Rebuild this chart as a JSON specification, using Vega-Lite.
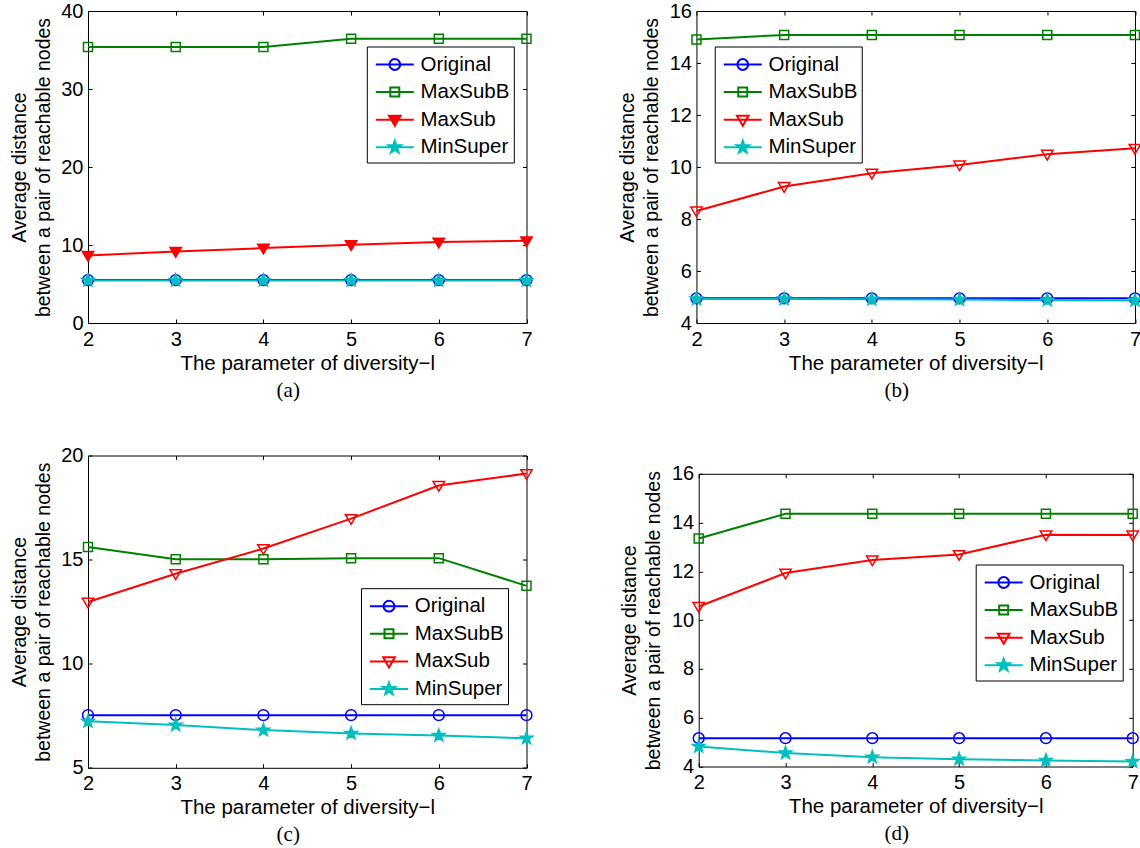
{
  "$schema": "https://vega.github.io/schema/vega-lite/v6.json",
  "background": "white",
  "padding": {"left": 8, "top": 0, "right": 0, "bottom": 5},
  "data": {"values": [
    {"panel": "a", "l": 2, "series": "Original", "value": 5.5},
    {"panel": "a", "l": 3, "series": "Original", "value": 5.5},
    {"panel": "a", "l": 4, "series": "Original", "value": 5.5},
    {"panel": "a", "l": 5, "series": "Original", "value": 5.5},
    {"panel": "a", "l": 6, "series": "Original", "value": 5.5},
    {"panel": "a", "l": 7, "series": "Original", "value": 5.5},
    {"panel": "a", "l": 2, "series": "MaxSubB", "value": 35.4},
    {"panel": "a", "l": 3, "series": "MaxSubB", "value": 35.4},
    {"panel": "a", "l": 4, "series": "MaxSubB", "value": 35.4},
    {"panel": "a", "l": 5, "series": "MaxSubB", "value": 36.45},
    {"panel": "a", "l": 6, "series": "MaxSubB", "value": 36.45},
    {"panel": "a", "l": 7, "series": "MaxSubB", "value": 36.45},
    {"panel": "a", "l": 2, "series": "MaxSub", "value": 8.66},
    {"panel": "a", "l": 3, "series": "MaxSub", "value": 9.17},
    {"panel": "a", "l": 4, "series": "MaxSub", "value": 9.6},
    {"panel": "a", "l": 5, "series": "MaxSub", "value": 10.03},
    {"panel": "a", "l": 6, "series": "MaxSub", "value": 10.37},
    {"panel": "a", "l": 7, "series": "MaxSub", "value": 10.54},
    {"panel": "a", "l": 2, "series": "MinSuper", "value": 5.45},
    {"panel": "a", "l": 3, "series": "MinSuper", "value": 5.45},
    {"panel": "a", "l": 4, "series": "MinSuper", "value": 5.45},
    {"panel": "a", "l": 5, "series": "MinSuper", "value": 5.45},
    {"panel": "a", "l": 6, "series": "MinSuper", "value": 5.45},
    {"panel": "a", "l": 7, "series": "MinSuper", "value": 5.45},
    {"panel": "b", "l": 2, "series": "Original", "value": 4.95},
    {"panel": "b", "l": 3, "series": "Original", "value": 4.95},
    {"panel": "b", "l": 4, "series": "Original", "value": 4.95},
    {"panel": "b", "l": 5, "series": "Original", "value": 4.95},
    {"panel": "b", "l": 6, "series": "Original", "value": 4.95},
    {"panel": "b", "l": 7, "series": "Original", "value": 4.95},
    {"panel": "b", "l": 2, "series": "MaxSubB", "value": 14.9},
    {"panel": "b", "l": 3, "series": "MaxSubB", "value": 15.08},
    {"panel": "b", "l": 4, "series": "MaxSubB", "value": 15.08},
    {"panel": "b", "l": 5, "series": "MaxSubB", "value": 15.08},
    {"panel": "b", "l": 6, "series": "MaxSubB", "value": 15.08},
    {"panel": "b", "l": 7, "series": "MaxSubB", "value": 15.08},
    {"panel": "b", "l": 2, "series": "MaxSub", "value": 8.31},
    {"panel": "b", "l": 3, "series": "MaxSub", "value": 9.25},
    {"panel": "b", "l": 4, "series": "MaxSub", "value": 9.76},
    {"panel": "b", "l": 5, "series": "MaxSub", "value": 10.08},
    {"panel": "b", "l": 6, "series": "MaxSub", "value": 10.49},
    {"panel": "b", "l": 7, "series": "MaxSub", "value": 10.72},
    {"panel": "b", "l": 2, "series": "MinSuper", "value": 4.92},
    {"panel": "b", "l": 3, "series": "MinSuper", "value": 4.92},
    {"panel": "b", "l": 4, "series": "MinSuper", "value": 4.91},
    {"panel": "b", "l": 5, "series": "MinSuper", "value": 4.9},
    {"panel": "b", "l": 6, "series": "MinSuper", "value": 4.88},
    {"panel": "b", "l": 7, "series": "MinSuper", "value": 4.87},
    {"panel": "c", "l": 2, "series": "Original", "value": 7.53},
    {"panel": "c", "l": 3, "series": "Original", "value": 7.53},
    {"panel": "c", "l": 4, "series": "Original", "value": 7.53},
    {"panel": "c", "l": 5, "series": "Original", "value": 7.53},
    {"panel": "c", "l": 6, "series": "Original", "value": 7.53},
    {"panel": "c", "l": 7, "series": "Original", "value": 7.53},
    {"panel": "c", "l": 2, "series": "MaxSubB", "value": 15.6},
    {"panel": "c", "l": 3, "series": "MaxSubB", "value": 15.02},
    {"panel": "c", "l": 4, "series": "MaxSubB", "value": 15.02},
    {"panel": "c", "l": 5, "series": "MaxSubB", "value": 15.07},
    {"panel": "c", "l": 6, "series": "MaxSubB", "value": 15.07},
    {"panel": "c", "l": 7, "series": "MaxSubB", "value": 13.74},
    {"panel": "c", "l": 2, "series": "MaxSub", "value": 12.96},
    {"panel": "c", "l": 3, "series": "MaxSub", "value": 14.32},
    {"panel": "c", "l": 4, "series": "MaxSub", "value": 15.53},
    {"panel": "c", "l": 5, "series": "MaxSub", "value": 16.97},
    {"panel": "c", "l": 6, "series": "MaxSub", "value": 18.56},
    {"panel": "c", "l": 7, "series": "MaxSub", "value": 19.13},
    {"panel": "c", "l": 2, "series": "MinSuper", "value": 7.23},
    {"panel": "c", "l": 3, "series": "MinSuper", "value": 7.05},
    {"panel": "c", "l": 4, "series": "MinSuper", "value": 6.81},
    {"panel": "c", "l": 5, "series": "MinSuper", "value": 6.65},
    {"panel": "c", "l": 6, "series": "MinSuper", "value": 6.55},
    {"panel": "c", "l": 7, "series": "MinSuper", "value": 6.42},
    {"panel": "d", "l": 2, "series": "Original", "value": 5.16},
    {"panel": "d", "l": 3, "series": "Original", "value": 5.16},
    {"panel": "d", "l": 4, "series": "Original", "value": 5.16},
    {"panel": "d", "l": 5, "series": "Original", "value": 5.16},
    {"panel": "d", "l": 6, "series": "Original", "value": 5.16},
    {"panel": "d", "l": 7, "series": "Original", "value": 5.16},
    {"panel": "d", "l": 2, "series": "MaxSubB", "value": 13.35},
    {"panel": "d", "l": 3, "series": "MaxSubB", "value": 14.36},
    {"panel": "d", "l": 4, "series": "MaxSubB", "value": 14.36},
    {"panel": "d", "l": 5, "series": "MaxSubB", "value": 14.36},
    {"panel": "d", "l": 6, "series": "MaxSubB", "value": 14.36},
    {"panel": "d", "l": 7, "series": "MaxSubB", "value": 14.36},
    {"panel": "d", "l": 2, "series": "MaxSub", "value": 10.56},
    {"panel": "d", "l": 3, "series": "MaxSub", "value": 11.93},
    {"panel": "d", "l": 4, "series": "MaxSub", "value": 12.47},
    {"panel": "d", "l": 5, "series": "MaxSub", "value": 12.69},
    {"panel": "d", "l": 6, "series": "MaxSub", "value": 13.5},
    {"panel": "d", "l": 7, "series": "MaxSub", "value": 13.49},
    {"panel": "d", "l": 2, "series": "MinSuper", "value": 4.82},
    {"panel": "d", "l": 3, "series": "MinSuper", "value": 4.55},
    {"panel": "d", "l": 4, "series": "MinSuper", "value": 4.38},
    {"panel": "d", "l": 5, "series": "MinSuper", "value": 4.3},
    {"panel": "d", "l": 6, "series": "MinSuper", "value": 4.25},
    {"panel": "d", "l": 7, "series": "MinSuper", "value": 4.2}
  ]},
  "bounds": "flush",
  "spacing": 608.2,
  "resolve": {"scale": {"color": "independent", "fill": "independent", "shape": "independent"}, "legend": {"color": "independent", "fill": "independent", "shape": "independent"}},
  "hconcat": [
    {
      "bounds": "flush",
      "spacing": 132.5,
      "resolve": {"scale": {"color": "independent", "fill": "independent", "shape": "independent"}, "legend": {"color": "independent", "fill": "independent", "shape": "independent"}},
      "vconcat": [
        {
          "width": 438.5, "height": 312,
          "title": {"text": "(a)", "orient": "bottom", "dx": -19},
          "transform": [{"filter": "datum.panel === 'a'"}],
          "resolve": {"axis": {"x": "independent", "y": "independent"}},
          "layer": [
            {
              "mark": {"type": "line", "strokeWidth": 2},
              "encoding": {
                "x": {"field": "l", "type": "quantitative", "scale": {"domain": [2, 7], "nice": false, "zero": false}, "axis": {"orient": "bottom", "values": [2, 3, 4, 5, 6, 7], "title": "The parameter of diversity−l"}},
                "y": {"field": "value", "type": "quantitative", "scale": {"domain": [0, 40], "nice": false, "zero": false}, "axis": {"orient": "left", "values": [0, 10, 20, 30, 40], "title": ["Average distance", "between a pair of reachable nodes"]}},
                "color": {"field": "series", "type": "nominal", "scale": {"domain": ["Original", "MaxSubB", "MaxSub", "MinSuper"], "range": ["#0000FF", "#008000", "#FF0000", "#00BFBF"]},
                  "legend": {"orient": "none", "legendX": 278.8, "legendY": 35.5, "title": null}}
              }
            },
            {
              "mark": {"type": "point", "opacity": 0},
              "encoding": {
                "x": {"field": "l", "type": "quantitative", "axis": {"orient": "top", "values": [2, 3, 4, 5, 6, 7], "labels": false, "title": null}},
                "y": {"field": "value", "type": "quantitative", "axis": {"orient": "right", "values": [0, 10, 20, 30, 40], "labels": false, "title": null}},
                "color": {"field": "series", "type": "nominal"},
                "shape": {"field": "series", "type": "nominal", "scale": {"domain": ["Original", "MaxSubB", "MaxSub", "MinSuper"], "range": ["M-0.692,0H2.231M1.184,0A0.415,0.415,0,1,1,0.354,0A0.415,0.415,0,1,1,1.184,0", "M-0.692,0H2.231M0.423,-0.346H1.115V0.346H0.423Z", "M-0.692,0H2.231M0.323,-0.31H1.215L0.769,0.46Z", "M-0.692,0H2.231M0.769,-0.5L0.8866,-0.1618L1.2445,-0.1545L0.9592,0.0618L1.0629,0.4045L0.769,0.2L0.4751,0.4045L0.5788,0.0618L0.2935,-0.1545L0.6514,-0.1618Z"]}, "legend": {"orient": "none", "legendX": 278.8, "legendY": 35.5, "title": null}},
                "fill": {"field": "series", "type": "nominal", "scale": {"domain": ["Original", "MaxSubB", "MaxSub", "MinSuper"], "range": ["transparent", "transparent", "#FF0000", "#00BFBF"]}, "legend": {"orient": "none", "legendX": 278.8, "legendY": 35.5, "title": null}}
              }
            },
            {"transform": [{"filter": "datum.series === 'Original'"}], "mark": {"type": "point", "shape": "M0.9,0A0.9,0.9,0,1,1,-0.9,0A0.9,0.9,0,1,1,0.9,0Z", "stroke": "#0000FF", "fill": "transparent", "size": 144, "strokeWidth": 1.5, "opacity": 1}, "encoding": {"x": {"field": "l", "type": "quantitative", "axis": null}, "y": {"field": "value", "type": "quantitative", "axis": null}}},
            {"transform": [{"filter": "datum.series === 'MaxSubB'"}], "mark": {"type": "point", "shape": "M-0.75,-0.75H0.75V0.75H-0.75Z", "stroke": "#008000", "fill": "transparent", "size": 144, "strokeWidth": 1.5, "opacity": 1}, "encoding": {"x": {"field": "l", "type": "quantitative", "axis": null}, "y": {"field": "value", "type": "quantitative", "axis": null}}},
            {"transform": [{"filter": "datum.series === 'MaxSub'"}], "mark": {"type": "point", "shape": "M-0.95,-0.65H0.95L0,0.95Z", "stroke": "#FF0000", "fill": "#FF0000", "size": 144, "strokeWidth": 1.5, "opacity": 1}, "encoding": {"x": {"field": "l", "type": "quantitative", "axis": null}, "y": {"field": "value", "type": "quantitative", "axis": null}}},
            {"transform": [{"filter": "datum.series === 'MinSuper'"}], "mark": {"type": "point", "shape": "M0,-1.1L0.265,-0.364L1.046,-0.34L0.428,0.139L0.647,0.89L0,0.45L-0.647,0.89L-0.428,0.139L-1.046,-0.34L-0.265,-0.364Z", "stroke": "#00BFBF", "fill": "#00BFBF", "size": 144, "strokeWidth": 1.5, "opacity": 1}, "encoding": {"x": {"field": "l", "type": "quantitative", "axis": null}, "y": {"field": "value", "type": "quantitative", "axis": null}}}
          ]
        },
        {
          "width": 438.5, "height": 312.3,
          "title": {"text": "(c)", "orient": "bottom", "dx": -19},
          "transform": [{"filter": "datum.panel === 'c'"}],
          "resolve": {"axis": {"x": "independent", "y": "independent"}},
          "layer": [
            {
              "mark": {"type": "line", "strokeWidth": 2},
              "encoding": {
                "x": {"field": "l", "type": "quantitative", "scale": {"domain": [2, 7], "nice": false, "zero": false}, "axis": {"orient": "bottom", "values": [2, 3, 4, 5, 6, 7], "title": "The parameter of diversity−l"}},
                "y": {"field": "value", "type": "quantitative", "scale": {"domain": [5, 20], "nice": false, "zero": false}, "axis": {"orient": "left", "values": [5, 10, 15, 20], "title": ["Average distance", "between a pair of reachable nodes"]}},
                "color": {"field": "series", "type": "nominal", "scale": {"domain": ["Original", "MaxSubB", "MaxSub", "MinSuper"], "range": ["#0000FF", "#008000", "#FF0000", "#00BFBF"]},
                  "legend": {"orient": "none", "legendX": 273, "legendY": 132.7, "title": null}}
              }
            },
            {
              "mark": {"type": "point", "opacity": 0},
              "encoding": {
                "x": {"field": "l", "type": "quantitative", "axis": {"orient": "top", "values": [2, 3, 4, 5, 6, 7], "labels": false, "title": null}},
                "y": {"field": "value", "type": "quantitative", "axis": {"orient": "right", "values": [5, 10, 15, 20], "labels": false, "title": null}},
                "color": {"field": "series", "type": "nominal"},
                "shape": {"field": "series", "type": "nominal", "scale": {"domain": ["Original", "MaxSubB", "MaxSub", "MinSuper"], "range": ["M-0.692,0H2.231M1.184,0A0.415,0.415,0,1,1,0.354,0A0.415,0.415,0,1,1,1.184,0", "M-0.692,0H2.231M0.423,-0.346H1.115V0.346H0.423Z", "M-0.692,0H2.231M0.323,-0.31H1.215L0.769,0.46Z", "M-0.692,0H2.231M0.769,-0.5L0.8866,-0.1618L1.2445,-0.1545L0.9592,0.0618L1.0629,0.4045L0.769,0.2L0.4751,0.4045L0.5788,0.0618L0.2935,-0.1545L0.6514,-0.1618Z"]}, "legend": {"orient": "none", "legendX": 273, "legendY": 132.7, "title": null}},
                "fill": {"field": "series", "type": "nominal", "scale": {"domain": ["Original", "MaxSubB", "MaxSub", "MinSuper"], "range": ["transparent", "transparent", "transparent", "#00BFBF"]}, "legend": {"orient": "none", "legendX": 273, "legendY": 132.7, "title": null}}
              }
            },
            {"transform": [{"filter": "datum.series === 'Original'"}], "mark": {"type": "point", "shape": "M0.9,0A0.9,0.9,0,1,1,-0.9,0A0.9,0.9,0,1,1,0.9,0Z", "stroke": "#0000FF", "fill": "transparent", "size": 144, "strokeWidth": 1.5, "opacity": 1}, "encoding": {"x": {"field": "l", "type": "quantitative", "axis": null}, "y": {"field": "value", "type": "quantitative", "axis": null}}},
            {"transform": [{"filter": "datum.series === 'MaxSubB'"}], "mark": {"type": "point", "shape": "M-0.75,-0.75H0.75V0.75H-0.75Z", "stroke": "#008000", "fill": "transparent", "size": 144, "strokeWidth": 1.5, "opacity": 1}, "encoding": {"x": {"field": "l", "type": "quantitative", "axis": null}, "y": {"field": "value", "type": "quantitative", "axis": null}}},
            {"transform": [{"filter": "datum.series === 'MaxSub'"}], "mark": {"type": "point", "shape": "M-0.95,-0.65H0.95L0,0.95Z", "stroke": "#FF0000", "fill": "transparent", "size": 144, "strokeWidth": 1.5, "opacity": 1}, "encoding": {"x": {"field": "l", "type": "quantitative", "axis": null}, "y": {"field": "value", "type": "quantitative", "axis": null}}},
            {"transform": [{"filter": "datum.series === 'MinSuper'"}], "mark": {"type": "point", "shape": "M0,-1.1L0.265,-0.364L1.046,-0.34L0.428,0.139L0.647,0.89L0,0.45L-0.647,0.89L-0.428,0.139L-1.046,-0.34L-0.265,-0.364Z", "stroke": "#00BFBF", "fill": "#00BFBF", "size": 144, "strokeWidth": 1.5, "opacity": 1}, "encoding": {"x": {"field": "l", "type": "quantitative", "axis": null}, "y": {"field": "value", "type": "quantitative", "axis": null}}}
          ]
        }
      ]
    },
    {
      "bounds": "flush",
      "spacing": 150.8,
      "center": true,
      "resolve": {"scale": {"color": "independent", "fill": "independent", "shape": "independent"}, "legend": {"color": "independent", "fill": "independent", "shape": "independent"}},
      "vconcat": [
        {
          "width": 438.5, "height": 312,
          "title": {"text": "(b)", "orient": "bottom", "dx": -19},
          "transform": [{"filter": "datum.panel === 'b'"}],
          "resolve": {"axis": {"x": "independent", "y": "independent"}},
          "layer": [
            {
              "mark": {"type": "line", "strokeWidth": 2},
              "encoding": {
                "x": {"field": "l", "type": "quantitative", "scale": {"domain": [2, 7], "nice": false, "zero": false}, "axis": {"orient": "bottom", "values": [2, 3, 4, 5, 6, 7], "title": "The parameter of diversity−l"}},
                "y": {"field": "value", "type": "quantitative", "scale": {"domain": [4, 16], "nice": false, "zero": false}, "axis": {"orient": "left", "values": [4, 6, 8, 10, 12, 14, 16], "title": ["Average distance", "between a pair of reachable nodes"]}},
                "color": {"field": "series", "type": "nominal", "scale": {"domain": ["Original", "MaxSubB", "MaxSub", "MinSuper"], "range": ["#0000FF", "#008000", "#FF0000", "#00BFBF"]},
                  "legend": {"orient": "none", "legendX": 18.3, "legendY": 35.5, "title": null}}
              }
            },
            {
              "mark": {"type": "point", "opacity": 0},
              "encoding": {
                "x": {"field": "l", "type": "quantitative", "axis": {"orient": "top", "values": [2, 3, 4, 5, 6, 7], "labels": false, "title": null}},
                "y": {"field": "value", "type": "quantitative", "axis": {"orient": "right", "values": [4, 6, 8, 10, 12, 14, 16], "labels": false, "title": null}},
                "color": {"field": "series", "type": "nominal"},
                "shape": {"field": "series", "type": "nominal", "scale": {"domain": ["Original", "MaxSubB", "MaxSub", "MinSuper"], "range": ["M-0.692,0H2.231M1.184,0A0.415,0.415,0,1,1,0.354,0A0.415,0.415,0,1,1,1.184,0", "M-0.692,0H2.231M0.423,-0.346H1.115V0.346H0.423Z", "M-0.692,0H2.231M0.323,-0.31H1.215L0.769,0.46Z", "M-0.692,0H2.231M0.769,-0.5L0.8866,-0.1618L1.2445,-0.1545L0.9592,0.0618L1.0629,0.4045L0.769,0.2L0.4751,0.4045L0.5788,0.0618L0.2935,-0.1545L0.6514,-0.1618Z"]}, "legend": {"orient": "none", "legendX": 18.3, "legendY": 35.5, "title": null}},
                "fill": {"field": "series", "type": "nominal", "scale": {"domain": ["Original", "MaxSubB", "MaxSub", "MinSuper"], "range": ["transparent", "transparent", "transparent", "#00BFBF"]}, "legend": {"orient": "none", "legendX": 18.3, "legendY": 35.5, "title": null}}
              }
            },
            {"transform": [{"filter": "datum.series === 'Original'"}], "mark": {"type": "point", "shape": "M0.9,0A0.9,0.9,0,1,1,-0.9,0A0.9,0.9,0,1,1,0.9,0Z", "stroke": "#0000FF", "fill": "transparent", "size": 144, "strokeWidth": 1.5, "opacity": 1}, "encoding": {"x": {"field": "l", "type": "quantitative", "axis": null}, "y": {"field": "value", "type": "quantitative", "axis": null}}},
            {"transform": [{"filter": "datum.series === 'MaxSubB'"}], "mark": {"type": "point", "shape": "M-0.75,-0.75H0.75V0.75H-0.75Z", "stroke": "#008000", "fill": "transparent", "size": 144, "strokeWidth": 1.5, "opacity": 1}, "encoding": {"x": {"field": "l", "type": "quantitative", "axis": null}, "y": {"field": "value", "type": "quantitative", "axis": null}}},
            {"transform": [{"filter": "datum.series === 'MaxSub'"}], "mark": {"type": "point", "shape": "M-0.95,-0.65H0.95L0,0.95Z", "stroke": "#FF0000", "fill": "transparent", "size": 144, "strokeWidth": 1.5, "opacity": 1}, "encoding": {"x": {"field": "l", "type": "quantitative", "axis": null}, "y": {"field": "value", "type": "quantitative", "axis": null}}},
            {"transform": [{"filter": "datum.series === 'MinSuper'"}], "mark": {"type": "point", "shape": "M0,-1.1L0.265,-0.364L1.046,-0.34L0.428,0.139L0.647,0.89L0,0.45L-0.647,0.89L-0.428,0.139L-1.046,-0.34L-0.265,-0.364Z", "stroke": "#00BFBF", "fill": "#00BFBF", "size": 144, "strokeWidth": 1.5, "opacity": 1}, "encoding": {"x": {"field": "l", "type": "quantitative", "axis": null}, "y": {"field": "value", "type": "quantitative", "axis": null}}}
          ]
        },
        {
          "width": 434, "height": 292.7,
          "title": {"text": "(d)", "orient": "bottom", "dx": -19},
          "transform": [{"filter": "datum.panel === 'd'"}],
          "resolve": {"axis": {"x": "independent", "y": "independent"}},
          "layer": [
            {
              "mark": {"type": "line", "strokeWidth": 2},
              "encoding": {
                "x": {"field": "l", "type": "quantitative", "scale": {"domain": [2, 7], "nice": false, "zero": false}, "axis": {"orient": "bottom", "values": [2, 3, 4, 5, 6, 7], "title": "The parameter of diversity−l"}},
                "y": {"field": "value", "type": "quantitative", "scale": {"domain": [4, 16], "nice": false, "zero": false}, "axis": {"orient": "left", "values": [4, 6, 8, 10, 12, 14, 16], "title": ["Average distance", "between a pair of reachable nodes"]}},
                "color": {"field": "series", "type": "nominal", "scale": {"domain": ["Original", "MaxSubB", "MaxSub", "MinSuper"], "range": ["#0000FF", "#008000", "#FF0000", "#00BFBF"]},
                  "legend": {"orient": "none", "legendX": 277, "legendY": 90.7, "title": null}}
              }
            },
            {
              "mark": {"type": "point", "opacity": 0},
              "encoding": {
                "x": {"field": "l", "type": "quantitative", "axis": {"orient": "top", "values": [2, 3, 4, 5, 6, 7], "labels": false, "title": null}},
                "y": {"field": "value", "type": "quantitative", "axis": {"orient": "right", "values": [4, 6, 8, 10, 12, 14, 16], "labels": false, "title": null}},
                "color": {"field": "series", "type": "nominal"},
                "shape": {"field": "series", "type": "nominal", "scale": {"domain": ["Original", "MaxSubB", "MaxSub", "MinSuper"], "range": ["M-0.692,0H2.231M1.184,0A0.415,0.415,0,1,1,0.354,0A0.415,0.415,0,1,1,1.184,0", "M-0.692,0H2.231M0.423,-0.346H1.115V0.346H0.423Z", "M-0.692,0H2.231M0.323,-0.31H1.215L0.769,0.46Z", "M-0.692,0H2.231M0.769,-0.5L0.8866,-0.1618L1.2445,-0.1545L0.9592,0.0618L1.0629,0.4045L0.769,0.2L0.4751,0.4045L0.5788,0.0618L0.2935,-0.1545L0.6514,-0.1618Z"]}, "legend": {"orient": "none", "legendX": 277, "legendY": 90.7, "title": null}},
                "fill": {"field": "series", "type": "nominal", "scale": {"domain": ["Original", "MaxSubB", "MaxSub", "MinSuper"], "range": ["transparent", "transparent", "transparent", "#00BFBF"]}, "legend": {"orient": "none", "legendX": 277, "legendY": 90.7, "title": null}}
              }
            },
            {"transform": [{"filter": "datum.series === 'Original'"}], "mark": {"type": "point", "shape": "M0.9,0A0.9,0.9,0,1,1,-0.9,0A0.9,0.9,0,1,1,0.9,0Z", "stroke": "#0000FF", "fill": "transparent", "size": 144, "strokeWidth": 1.5, "opacity": 1}, "encoding": {"x": {"field": "l", "type": "quantitative", "axis": null}, "y": {"field": "value", "type": "quantitative", "axis": null}}},
            {"transform": [{"filter": "datum.series === 'MaxSubB'"}], "mark": {"type": "point", "shape": "M-0.75,-0.75H0.75V0.75H-0.75Z", "stroke": "#008000", "fill": "transparent", "size": 144, "strokeWidth": 1.5, "opacity": 1}, "encoding": {"x": {"field": "l", "type": "quantitative", "axis": null}, "y": {"field": "value", "type": "quantitative", "axis": null}}},
            {"transform": [{"filter": "datum.series === 'MaxSub'"}], "mark": {"type": "point", "shape": "M-0.95,-0.65H0.95L0,0.95Z", "stroke": "#FF0000", "fill": "transparent", "size": 144, "strokeWidth": 1.5, "opacity": 1}, "encoding": {"x": {"field": "l", "type": "quantitative", "axis": null}, "y": {"field": "value", "type": "quantitative", "axis": null}}},
            {"transform": [{"filter": "datum.series === 'MinSuper'"}], "mark": {"type": "point", "shape": "M0,-1.1L0.265,-0.364L1.046,-0.34L0.428,0.139L0.647,0.89L0,0.45L-0.647,0.89L-0.428,0.139L-1.046,-0.34L-0.265,-0.364Z", "stroke": "#00BFBF", "fill": "#00BFBF", "size": 144, "strokeWidth": 1.5, "opacity": 1}, "encoding": {"x": {"field": "l", "type": "quantitative", "axis": null}, "y": {"field": "value", "type": "quantitative", "axis": null}}}
          ]
        }
      ]
    }
  ],
  "config": {
    "font": "Liberation Sans",
    "view": {"stroke": "black", "strokeWidth": 1},
    "axis": {"domain": false, "grid": false, "tickSize": -4, "tickColor": "black", "tickWidth": 1,
      "labelFont": "Liberation Sans", "labelFontSize": 20, "labelColor": "black", "labelPadding": 9, "labelFlush": false, "labelOverlap": false,
      "titleFont": "Liberation Sans", "titleFontSize": 20.5, "titleFontWeight": "normal", "titleColor": "black"},
    "axisLeft": {"titlePadding": 7.5, "titleLineHeight": 24, "titleFontSize": 19.5},
    "axisBottom": {"titlePadding": 4, "labelPadding": 10},
    "legend": {"labelFont": "Liberation Sans", "labelFontSize": 20.5, "labelColor": "black", "symbolSize": 676, "symbolStrokeWidth": 2, "symbolOpacity": 1,
      "fillColor": "white", "strokeColor": "black", "padding": 4, "rowPadding": 2.6, "labelOffset": 21.7, "cornerRadius": 0},
    "title": {"font": "Liberation Serif", "fontSize": 21, "fontWeight": "normal", "color": "black", "offset": 6}
  }
}
